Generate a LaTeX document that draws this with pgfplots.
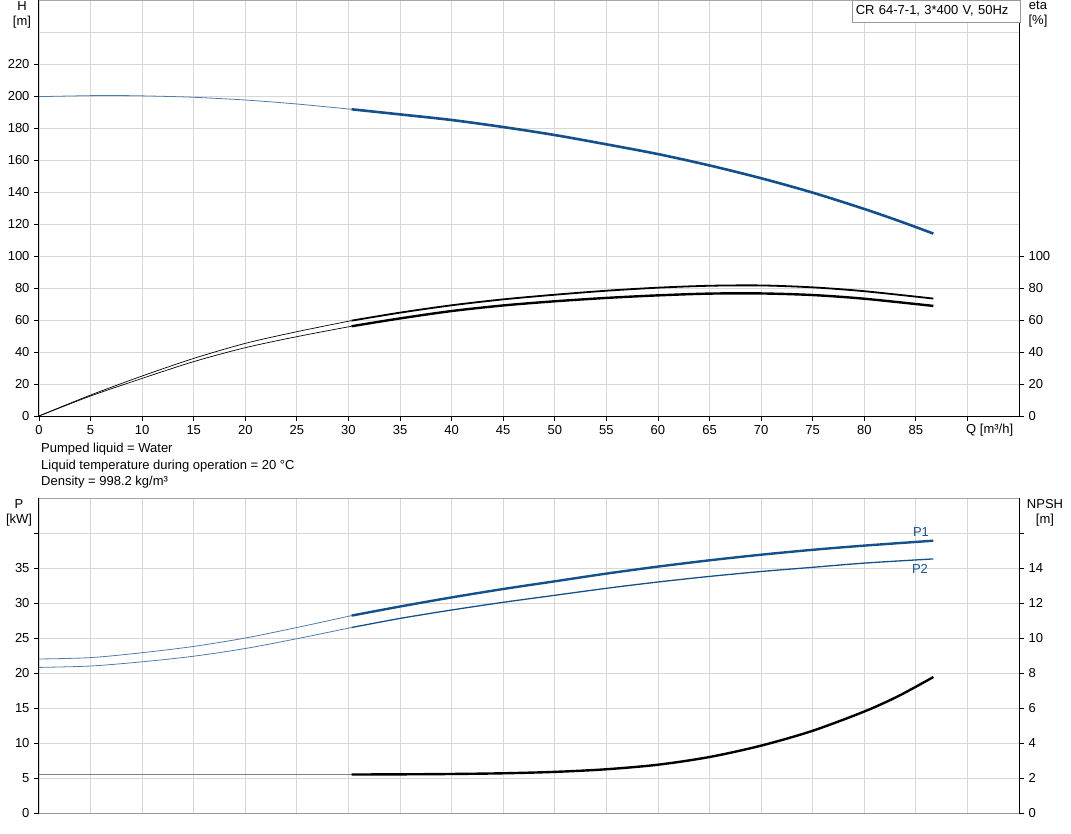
\documentclass[border=0pt]{standalone}
\usepackage{fontspec}
\setmainfont{Liberation Sans}
\usepackage{pgfplots}
\pgfplotsset{compat=1.18}
\definecolor{pblue}{RGB}{20,80,140}
\definecolor{gridc}{RGB}{215,215,215}
\pgfplotsset{
  base/.style={
    scale only axis, width=980pt,
    xmin=0, xmax=95,
    tick align=outside, major tick length=5pt,
    tick style={black, line width=0.8pt},
    tick label style={font=\fontsize{13}{15}\selectfont},
    /pgf/number format/assume math mode=true,
    axis line style={black, line width=1pt},
  },
}
\begin{document}
\begin{tikzpicture}[x=1pt,y=1pt]
\path[use as bounding box] (0,0) rectangle (1071,-833);

% ---------------- top panel: H ----------------
\begin{axis}[base, height=416pt, at={(39pt,0pt)}, anchor=north west,
  ymin=0, ymax=260,
  axis x line*=bottom, axis y line*=left,
  xtick={0,5,...,90},
  xticklabels={0,5,10,15,20,25,30,35,40,45,50,55,60,65,70,75,80,85,{}},
  ytick={0,20,...,220},
  extra y ticks={240}, extra y tick labels={}, extra y tick style={major tick length=0pt},
  grid=major, grid style={gridc, line width=0.8pt},
  xticklabel style={yshift=-1pt},
  yticklabel style={xshift=-1pt},
]
\draw[gray!70, line width=0.8pt] (rel axis cs:0,1) -- (rel axis cs:1,1);
\addplot[pblue!75, line width=0.8pt, smooth] coordinates {
 (0,199.6) (3,200.0) (6,200.3) (9,200.2) (12,199.8) (15,199.2) (20,197.5) (25,195.0) (30.3,191.7)};
\addplot[pblue, line width=2.6pt, smooth] coordinates {
 (30.3,191.7) (35,188.5) (40,185.0) (45,180.6) (50,175.6) (55,169.8) (60,163.7) (65,156.6) (70,148.6) (75,139.6) (80,129.4) (83.5,121.6) (86.7,114.0)};
\end{axis}

% ---------------- top panel: eta ----------------
\begin{axis}[base, height=416pt, at={(39pt,0pt)}, anchor=north west,
  ymin=0, ymax=260,
  axis y line*=right, axis x line=none,
  ytick={0,20,...,100},
  yticklabel style={xshift=1pt},
]
\addplot[black, line width=0.7pt, smooth] coordinates {
 (0,0) (5,13.1) (10,25.0) (15,36.0) (20,45.4) (25,52.7) (30.3,59.6)};
\addplot[black, line width=1.8pt, smooth] coordinates {
 (30.3,59.6) (35,64.6) (40,69.2) (45,72.9) (50,75.8) (55,78.3) (60,80.2) (65,81.4) (70,81.6) (75,80.4) (80,78.0) (86.7,73.4)};
\addplot[black, line width=0.7pt, smooth] coordinates {
 (0,0) (5,12.5) (10,23.5) (15,34.0) (20,42.7) (25,49.6) (30.3,56.1)};
\addplot[black, line width=2.4pt, smooth] coordinates {
 (30.3,56.1) (35,61.0) (40,65.6) (45,69.1) (50,71.7) (55,73.8) (60,75.4) (65,76.5) (70,76.6) (75,75.6) (80,73.3) (86.7,68.8)};
\end{axis}

% ---------------- bottom panel: P ----------------
\begin{axis}[base, height=315pt, at={(39pt,-498pt)}, anchor=north west,
  ymin=0, ymax=45,
  axis x line*=bottom, axis y line*=left,
  x axis line style={gray!80},
  xtick={0,5,...,90}, xticklabels={}, xtick style={draw=none},
  ytick={0,5,...,35},
  extra y ticks={40}, extra y tick labels={},
  grid=major, grid style={gridc, line width=0.8pt},
  yticklabel style={xshift=-1pt},
]
\draw[gray!70, line width=0.8pt] (rel axis cs:0,1) -- (rel axis cs:1,1);
\addplot[pblue!75, line width=0.8pt, smooth] coordinates {
 (0,22.0) (5,22.2) (10,22.9) (15,23.8) (20,25.0) (25,26.5) (30.3,28.2)};
\addplot[pblue, line width=2.4pt, smooth] coordinates {
 (30.3,28.2) (35,29.5) (40,30.8) (45,32.0) (50,33.1) (55,34.2) (60,35.2) (65,36.1) (70,36.9) (75,37.6) (80,38.2) (86.7,38.9)};
\addplot[pblue!75, line width=0.8pt, smooth] coordinates {
 (0,20.8) (5,21.0) (10,21.6) (15,22.4) (20,23.5) (25,24.9) (30.3,26.5)};
\addplot[pblue, line width=1.3pt, smooth] coordinates {
 (30.3,26.5) (35,27.8) (40,29.0) (45,30.1) (50,31.1) (55,32.1) (60,33.0) (65,33.8) (70,34.5) (75,35.1) (80,35.7) (86.7,36.3)};
\node[pblue, font=\fontsize{13}{15}\selectfont] at (axis cs:85.5,40.1) {P1};
\node[pblue, font=\fontsize{13}{15}\selectfont] at (axis cs:85.4,34.9) {P2};
\end{axis}

% ---------------- bottom panel: NPSH ----------------
\begin{axis}[base, height=315pt, at={(39pt,-498pt)}, anchor=north west,
  ymin=0, ymax=18,
  axis y line*=right, axis x line=none,
  ytick={0,2,...,14},
  extra y ticks={16}, extra y tick labels={},
  yticklabel style={xshift=1pt},
]
\addplot[gray, line width=0.8pt] coordinates {(0,2.2) (30.3,2.2)};
\addplot[black, line width=2.4pt, smooth] coordinates {
 (30.3,2.2) (35,2.21) (40,2.23) (45,2.27) (50,2.35) (55,2.5) (60,2.76) (65,3.2) (70,3.85) (75,4.7) (80,5.8) (83.3,6.68) (86.7,7.77)};
\end{axis}

% ---------------- labels ----------------
\begin{scope}[every node/.style={font=\fontsize{13}{15}\selectfont, inner sep=0pt}]
\node[anchor=north, align=center] at (22,-1) {H\\{[m]}};
\node[anchor=north, align=center] at (1038,-1) {eta\\{[\%]}};
\node[anchor=north, align=center] at (19,-499) {P\\{[kW]}};
\node[anchor=north, align=center] at (1045,-499) {NPSH\\{[m]}};
\node[anchor=north west] at (966,-424) {Q [m³/h]};
\node[anchor=north west, align=left, font=\fontsize{13}{16.5}\selectfont] at (41,-443)
  {Pumped liquid = Water\\Liquid temperature during operation = 20 °C\\Density = 998.2 kg/m³};
\end{scope}
\node[draw=gray!80, fill=white, anchor=north east, inner xsep=4pt, inner ysep=0pt,
  text width=160pt, align=left, minimum height=22pt,
  font=\fontsize{13}{15}\selectfont] at (1020,0.5) {CR 64-7-1, 3*400 V, 50Hz};
\end{tikzpicture}
\end{document}
